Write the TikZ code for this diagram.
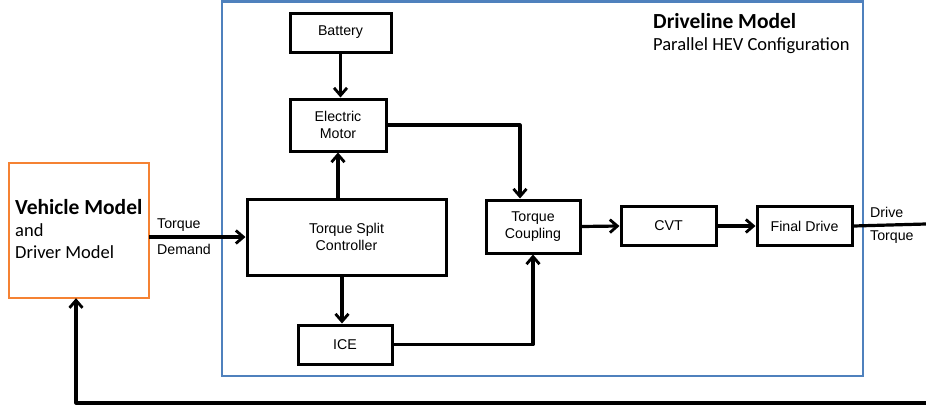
\documentclass[tikz,border=0pt]{standalone}
\usepackage{fontspec}
\setmainfont{Liberation Sans}
\newfontfamily\calfont{Carlito}
\usetikzlibrary{arrows.meta}
\definecolor{dblue}{HTML}{4F81BD}
\definecolor{vorange}{HTML}{F58233}
\begin{document}
\begin{tikzpicture}[x=1pt,y=-1pt,
  blk/.style={draw=black,line width=3pt,inner sep=0pt,font=\fontsize{14.2}{17}\selectfont,align=center},
  conn/.style={line width=3.2pt,line join=round},
  arr/.style={conn,-{Straight Barb[length=7.5pt,width=13pt,line width=2.8pt]}},
  lbl/.style={font=\fontsize{14.2}{17}\selectfont,anchor=base west,inner sep=0pt},
  big/.style={font=\calfont\fontsize{18.5}{22}\selectfont,anchor=base west,inner sep=0pt},
  bigb/.style={font=\calfont\bfseries\fontsize{21.5}{25}\selectfont,anchor=base west,inner sep=0pt}]
\useasboundingbox (0,0) rectangle (926,407);
% frames
\draw[dblue,line width=2.2pt] (222,1.5) rectangle (863,376);
\draw[vorange,line width=2.6pt] (9,163) rectangle (149,298);
\node (veh) at (79,230.5) [minimum width=140pt,minimum height=135pt,inner sep=0pt] {};
\node[bigb] at (15,214) {Vehicle Model};
\node[big] at (15,236) {and};
\node[big] at (15,258) {Driver Model};
\node[bigb] (title) at (653,28) {Driveline Model};
\node[big] (subtitle) at (653,50.5) {Parallel HEV Configuration};
% blocks
\node[blk,minimum width=101pt,minimum height=39pt] (bat) at (340.5,32.5) {Battery};
\node[blk,minimum width=96pt,minimum height=52pt] (mot) at (338,125) {Electric\\Motor};
\node[blk,minimum width=199pt,minimum height=76pt] (tsc) at (346.5,237) {Torque Split\\Controller};
\node[blk,minimum width=94pt,minimum height=39pt] (ice) at (345,344.5) {ICE};
\node[blk,minimum width=94pt,minimum height=53pt] (tc) at (533,226.5) {Torque\\Coupling};
\node[blk,minimum width=95pt,minimum height=39pt] (cvt) at (668.5,226) {CVT};
\node[blk,minimum width=95pt,minimum height=39pt] (fd) at (804.5,226) {Final Drive};
% labels
\node[lbl] at (157,228.5) {Torque};
\node[lbl] at (157,254.5) {Demand};
\node[lbl] at (870,217.5) {Drive};
\node[lbl] at (870,240.5) {Torque};
\coordinate (dtEnd) at (926,224);
\coordinate (fbStart) at (926,403);
% connectors
\draw[arr] (bat.south) -- (mot.north -| bat.south);
\draw[arr] (tsc.north -| mot.south) -- (mot.south);
\draw[arr] ([xshift=-3pt]tsc.south -| ice.north) -- ([xshift=-3pt]ice.north);
\draw[arr] (mot.east) -| ([xshift=-13pt]tc.north);
\draw[arr] (ice.east) -| (tc.south);
\draw[arr] (veh.east |- tsc.west) -- (tsc.west);
\draw[arr] (tc.east) -- (cvt.west);
\draw[arr] (cvt.east) -- (fd.west);
\draw[conn] (fd.east) -- (dtEnd);
\draw[arr] (fbStart) -| (veh.south -| 76,0);
\end{tikzpicture}
\end{document}
